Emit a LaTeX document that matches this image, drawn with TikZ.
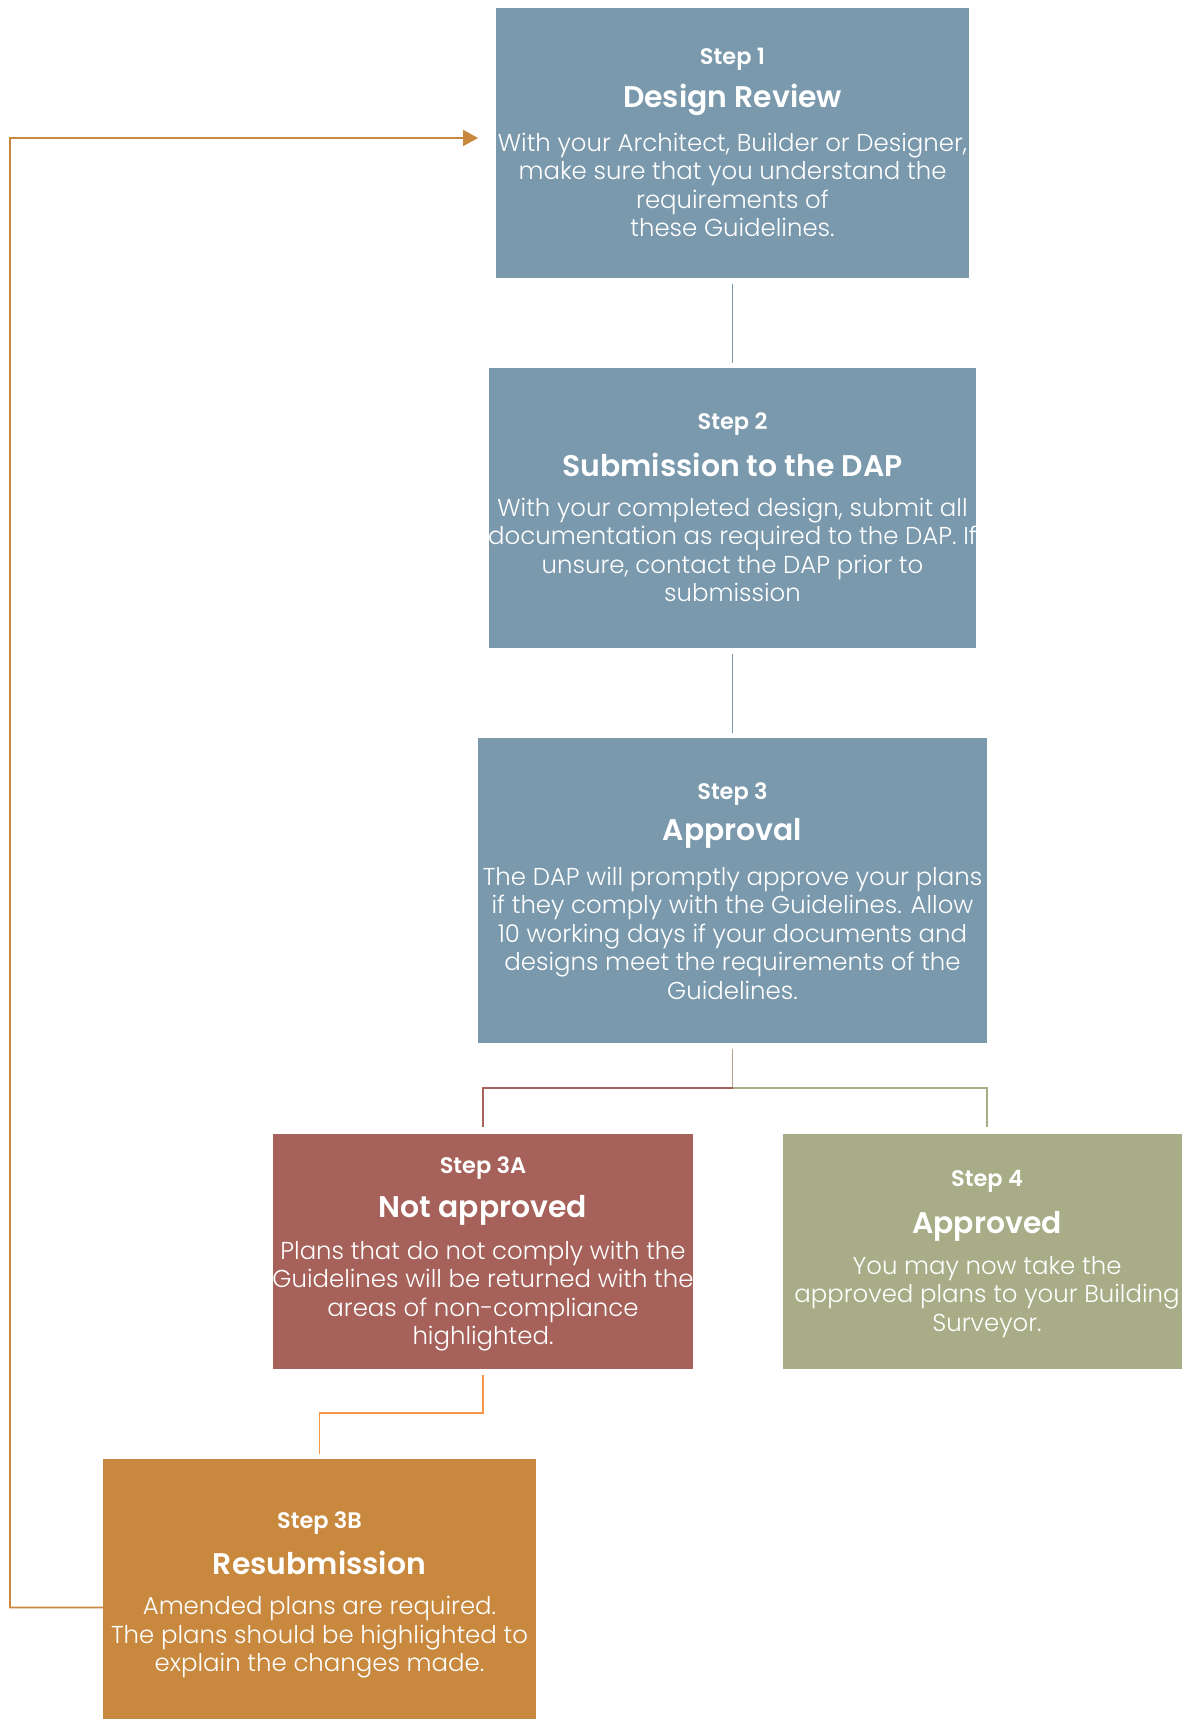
\documentclass[tikz,border=0pt]{standalone}
\usepackage{fontspec}
\setmainfont{Poppins}[BoldFont=* SemiBold]
\newfontfamily\lightfont{Poppins}[UprightFont=* Light]
\usepackage{tikz}
\usetikzlibrary{positioning}
\usetikzlibrary{arrows.meta}

\definecolor{stepblue}{HTML}{7A99AD}
\definecolor{stepred}{HTML}{A6625A}
\definecolor{stepgreen}{HTML}{A9AD87}
\definecolor{steporange}{HTML}{C8893F}
\definecolor{splitgrey}{HTML}{B0A685}
\definecolor{backorange}{HTML}{F79646}

\begin{document}
\begin{tikzpicture}[x=0.02cm, y=-0.02cm,
	box/.style={inner sep=0, outer sep=0},
	steplbl/.style={text=white, font=\bfseries\fontsize{12.8}{14}\selectfont},
	steptitle/.style={text=white, font=\bfseries\fontsize{17}{20}\selectfont},
	stepbody/.style={text=white, align=center, font=\lightfont\fontsize{13.9}{16.2}\selectfont},
	link/.style={line width=1.1pt, shorten <=0.12cm, shorten >=0.1cm}]

	\useasboundingbox (0,0) rectangle (1182,1719);

	\node [box, fill=stepblue, minimum width=9.46cm, minimum height=5.4cm] (s1) at (732.5,143) {};
	\node [steplbl] (s1l) at (732.5,59.5) {Step 1};
	\node [steptitle] (s1t) at (732.5,100) {Design Review};
	\node [stepbody] (s1b) at (732.5,185) {With your Architect, Builder or Designer,\\ make sure that you understand the\\ requirements of\\ these Guidelines.};

	\node [box, fill=stepblue, minimum width=9.74cm, minimum height=5.6cm] (s2) at (732.5,508) {};
	\node [steplbl] (s2l) at (732.5,424.5) {Step 2};
	\node [steptitle] (s2t) at (732.5,465) {Submission to the DAP};
	\node [stepbody] (s2b) at (732.5,550) {With your completed design, submit all\\ documentation as required to the DAP. If\\ unsure, contact the DAP prior to\\ submission};

	\node [box, fill=stepblue, minimum width=10.18cm, minimum height=6.1cm] (s3) at (732.5,890.5) {};
	\node [steplbl] (s3l) at (732.5,794) {Step 3};
	\node [steptitle] (s3t) at (732.5,833.5) {Approval};
	\node [stepbody] (s3b) at (732.5,933) {The DAP will promptly approve your plans\\ if they comply with the Guidelines. Allow\\ 10 working days if your documents and\\ designs meet the requirements of the\\ Guidelines.};

	\node [box, fill=stepred, minimum width=8.4cm, minimum height=4.7cm] (s3a) at (483,1251.5) {};
	\node [steplbl] (s3al) at (483,1168) {Step 3A};
	\node [steptitle] (s3at) at (483,1210.5) {Not approved};
	\node [stepbody] (s3ab) at (483,1296) {Plans that do not comply with the\\ Guidelines will be returned with the\\ areas of non-compliance\\ highlighted.};

	\node [box, fill=stepgreen, minimum width=8.16cm, minimum height=4.7cm] (s4) at (987,1251.5) {};
	\node [steplbl] (s4l) at (987,1181) {Step 4};
	\node [steptitle] (s4t) at (987,1226) {Approved};
	\node [stepbody] (s4b) at (987,1297) {You may now take the\\ approved plans to your Building\\ Surveyor.};

	\node [box, fill=steporange, minimum width=8.66cm, minimum height=5.2cm] (s3x) at (319.5,1589) {};
	\node [steplbl] (s3xl) at (319.5,1523) {Step 3B};
	\node [steptitle] (s3xt) at (319.5,1562.5) {Resubmission};
	\node [stepbody] (s3xb) at (319.5,1637.5) {Amended plans are required.\\ The plans should be highlighted to\\ explain the changes made.};

	\draw [link, stepblue] (s1) -- (s2);
	\draw [link, stepblue] (s2) -- (s3);

	\coordinate (split) at (732.5,1088);
	\coordinate (fb) at (10,138);
	\draw [link, splitgrey, shorten >=0] (s3.south) -- (split);
	\draw [link, stepred, shorten <=0, shorten >=0.14cm] (split) -| (s3a.north);
	\draw [link, stepgreen, shorten <=0, shorten >=0.14cm] (split) -| (s4.north);
	\draw [link, backorange] (s3a.south) -- ++(0,44) -| (s3x.north);
	\draw [line width=1.1pt, steporange, -{Triangle[length=0.3cm, width=0.32cm]}, shorten >=0.36cm] ([yshift=-0.37cm]s3x.west) -| (fb) -- ([yshift=0.1cm]s1.west);
\end{tikzpicture}
\end{document}
